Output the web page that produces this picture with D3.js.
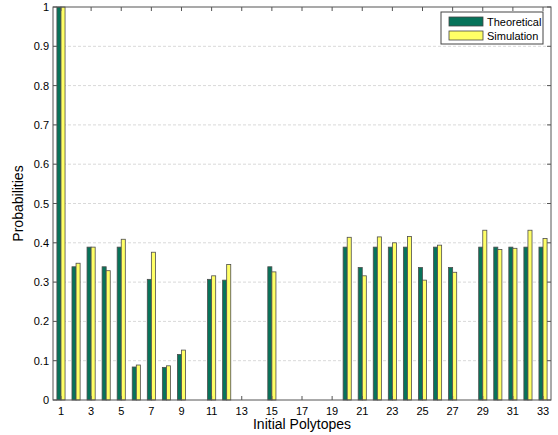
<!DOCTYPE html>
<html>
<head>
<meta charset="utf-8">
<script src="https://cdn.jsdelivr.net/npm/d3@7.9.0/dist/d3.min.js"></script>
<style>
  body { margin: 0; background: #fff; }
  svg { font-family: "Liberation Sans", Arial, sans-serif; }
</style>
</head>
<body>
<svg id="chart" width="558" height="435"></svg>
<script>
// polytope indices 1..33, null where no bar was drawn
const polytopes = d3.range(1, 34);
const theoretical = [1, 0.339, 0.389, 0.339, 0.389, 0.084, 0.307, 0.083, 0.116, null,
  0.307, 0.305, null, null, 0.339, null, null, null, null, 0.389,
  0.337, 0.389, 0.389, 0.389, 0.337, 0.389, 0.337, null, 0.389, 0.389,
  0.389, 0.389, 0.389];
const simulation = [1, 0.348, 0.389, 0.329, 0.409, 0.089, 0.376, 0.087, 0.127, null,
  0.316, 0.345, null, null, 0.326, null, null, null, null, 0.414,
  0.316, 0.415, 0.400, 0.416, 0.305, 0.394, 0.325, null, 0.432, 0.383,
  0.386, 0.432, 0.411];
const seriesNames = ['Theoretical', 'Simulation'];
const seriesColors = ['#07735a', '#ffff66'];
const xTicks = d3.range(1, 34, 2);
const yTicks = d3.range(0, 1.01, 0.1);

const svg = d3.select('#chart');
const mLeft = 53, mRight = 551, mTop = 7, mBottom = 400;

let x = d3.scaleLinear().domain([0.47, 33.53]).range([mLeft, mRight]);
let y = d3.scaleLinear().domain([0, 1]).range([mBottom, mTop]);
const bw = 0.27;

// grid
svg.append('g').selectAll('line')
  .data(yTicks.slice(1, -1))
  .join('line')
  .attr('x1', mLeft).attr('x2', mRight)
  .attr('y1', d => y(d)).attr('y2', d => y(d))
  .attr('stroke', '#d9d9d9')
  .attr('stroke-dasharray', '3,2');

// bars
[theoretical, simulation].forEach((vals, s) => {
  svg.append('g').selectAll('rect')
    .data(polytopes.map((p, i) => ({ p: p, v: vals[i] })).filter(d => d.v !== null))
    .join('rect')
    .attr('x', d => x(d.p + (s === 0 ? -bw : 0)))
    .attr('width', x(bw) - x(0))
    .attr('y', d => y(d.v))
    .attr('height', d => y(0) - y(d.v))
    .attr('fill', seriesColors[s])
    .attr('stroke', '#4d4d4d')
    .attr('stroke-width', 0.8);
});

// axes box
svg.append('rect')
  .attr('x', mLeft).attr('y', mTop)
  .attr('width', mRight - mLeft).attr('height', mBottom - mTop)
  .attr('fill', 'none').attr('stroke', '#555');

// x ticks (bottom and top, inward)
xTicks.forEach(t => {
  svg.append('line').attr('x1', x(t)).attr('x2', x(t))
    .attr('y1', mBottom).attr('y2', mBottom - 4).attr('stroke', '#555');
  svg.append('line').attr('x1', x(t)).attr('x2', x(t))
    .attr('y1', mTop).attr('y2', mTop + 4).attr('stroke', '#555');
  svg.append('text').attr('x', x(t)).attr('y', mBottom + 15)
    .attr('text-anchor', 'middle').attr('font-size', 11).text(t);
});

// y ticks (left and right)
yTicks.forEach(t => {
  svg.append('line').attr('x1', mLeft).attr('x2', mLeft + 4)
    .attr('y1', y(t)).attr('y2', y(t)).attr('stroke', '#555');
  svg.append('line').attr('x1', mRight).attr('x2', mRight - 4)
    .attr('y1', y(t)).attr('y2', y(t)).attr('stroke', '#555');
  svg.append('text').attr('x', mLeft - 4).attr('y', y(t) + 4)
    .attr('text-anchor', 'end').attr('font-size', 11)
    .text(d3.format('.1~f')(t));
});

svg.append('text').attr('x', (mLeft + mRight) / 2).attr('y', 429)
  .attr('text-anchor', 'middle').attr('font-size', 14).text('Initial Polytopes');
svg.append('text')
  .attr('transform', `translate(23,${(mTop + mBottom) / 2}) rotate(-90)`)
  .attr('text-anchor', 'middle').attr('font-size', 14).text('Probabilities');

// legend
const lg = svg.append('g');
lg.append('rect').attr('x', 441).attr('y', 12).attr('width', 102).attr('height', 32)
  .attr('fill', '#fff').attr('stroke', '#444');
seriesNames.forEach((name, i) => {
  lg.append('rect').attr('x', 449).attr('y', 17 + i * 14)
    .attr('width', 34).attr('height', 9)
    .attr('fill', seriesColors[i]).attr('stroke', '#444').attr('stroke-width', 0.8);
  lg.append('text').attr('x', 487).attr('y', 25.5 + i * 14)
    .attr('font-size', 11).text(name);
});
</script>
</body>
</html>
